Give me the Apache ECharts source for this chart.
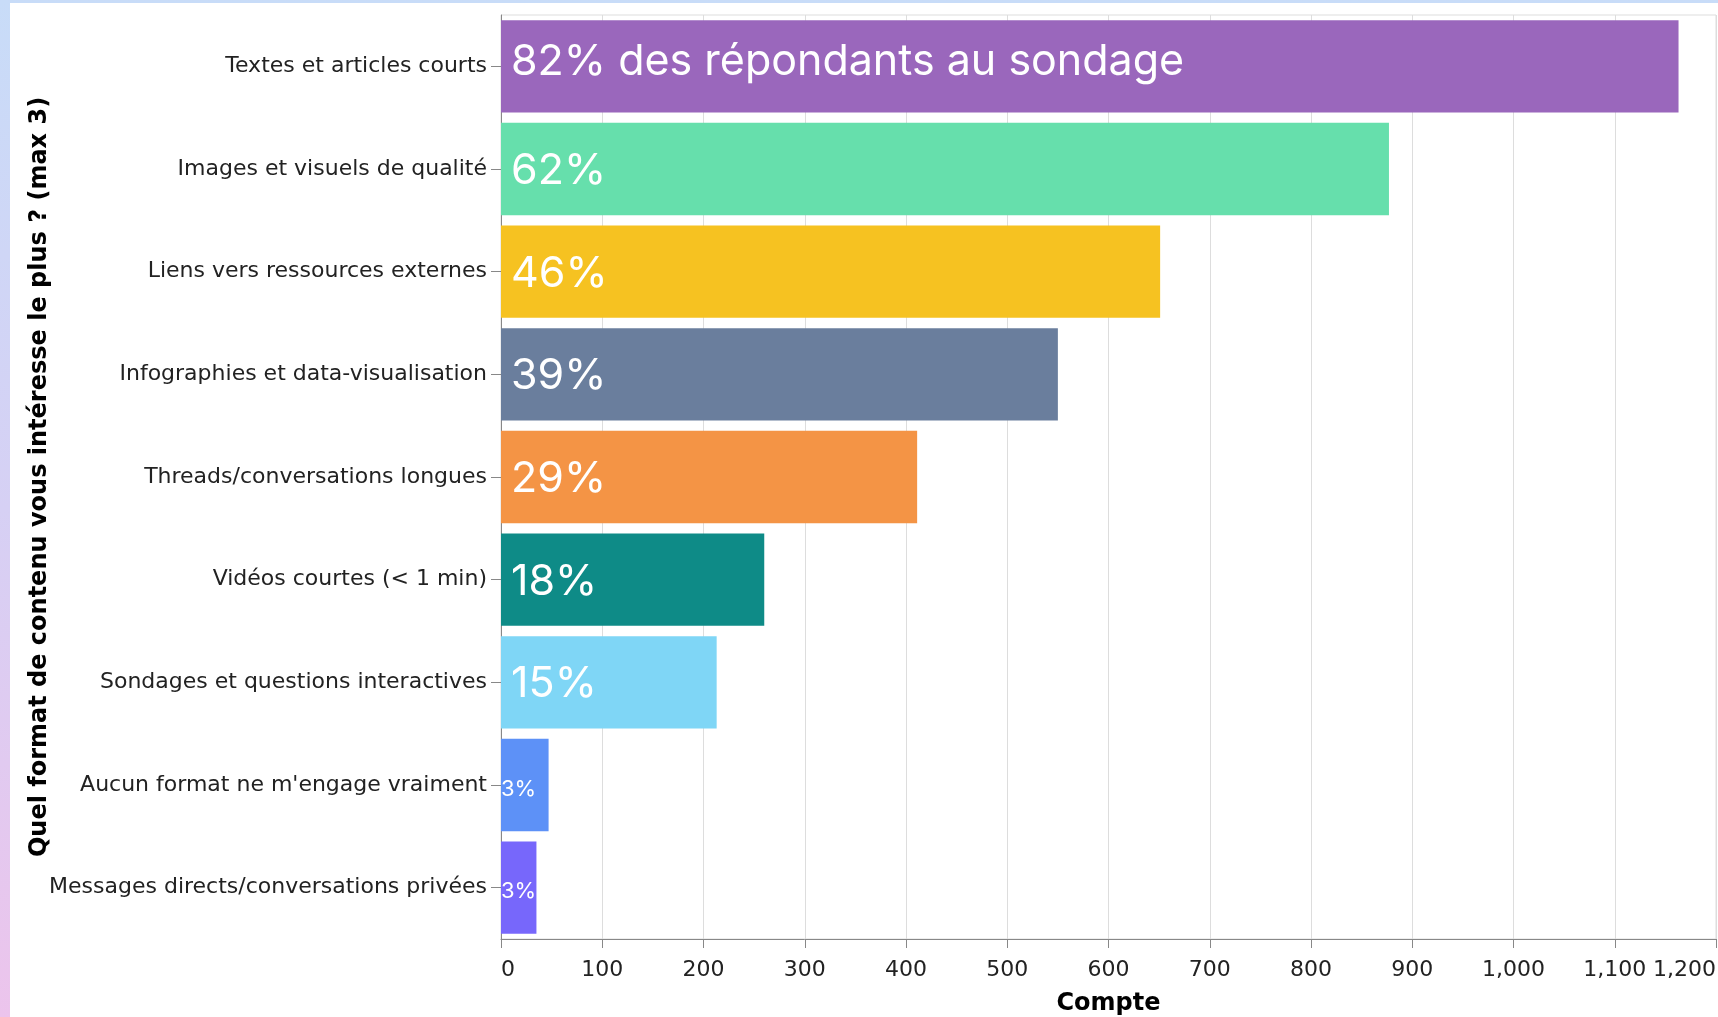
<!DOCTYPE html>
<html>
<head>
<meta charset="utf-8">
<script src="https://cdn.jsdelivr.net/npm/echarts@6/dist/echarts.min.js"></script>
<style>
  html, body { margin: 0; padding: 0; width: 1718px; height: 1017px; overflow: hidden; }
  body { background: linear-gradient(180deg, #c8dcf8 0%, #d6d0f4 50%, #ecc4ec 100%); position: relative; }
  #chart { position: absolute; left: 10px; top: 3px; width: 1708px; height: 1014px; background: #fff; }
</style>
</head>
<body>
<div id="chart"></div>
<script>
// categories (top to bottom)
const categories = [
  'Textes et articles courts',
  'Images et visuels de qualité',
  'Liens vers ressources externes',
  'Infographies et data-visualisation',
  'Threads/conversations longues',
  'Vidéos courtes (< 1 min)',
  'Sondages et questions interactives',
  "Aucun format ne m'engage vraiment",
  'Messages directs/conversations privées'
]
const counts = [1163, 877, 651, 550, 411, 260, 213, 47, 35]
const pctLabels = ['82% des répondants au sondage', '62%', '46%', '39%', '29%', '18%', '15%', '3%', '3%']
const barColors = ['#9a67bc', '#66dfac', '#f6c221', '#6a7e9d', '#f49445', '#0e8b87', '#7fd6f6', '#5d91f7', '#7767fb']
const xTicks = [0, 100, 200, 300, 400, 500, 600, 700, 800, 900, 1000, 1100, 1200]

const chart = echarts.init(document.getElementById('chart'))

const option = {
  animation: false,
  grid: {
    left: 491,
    right: 2,
    top: 12,
    bottom: 78,
    outerBoundsMode: 'none',
    show: true,
    borderColor: '#dddddd',
    borderWidth: 1
  },
  xAxis: {
    type: 'value',
    min: xTicks[0],
    max: xTicks[xTicks.length - 1],
    interval: 100,
    name: 'Compte',
    nameLocation: 'middle',
    nameGap: 53,
    nameTextStyle: { fontFamily: 'DejaVu Sans', fontWeight: 'bold', fontSize: 24, color: '#000' },
    axisLine: { show: true, lineStyle: { color: '#888', width: 1 } },
    axisTick: { show: true, length: 9, lineStyle: { color: '#888' } },
    axisLabel: {
      fontFamily: 'DejaVu Sans',
      fontSize: 22,
      color: '#222',
      margin: 20,
      alignMinLabel: 'left',
      alignMaxLabel: 'right',
      formatter: (v) => v.toLocaleString('en-US')
    },
    splitLine: { show: true, lineStyle: { color: '#dddddd', width: 1 } }
  },
  yAxis: {
    type: 'category',
    inverse: true,
    data: categories,
    name: 'Quel format de contenu vous intéresse le plus ? (max 3)',
    nameLocation: 'middle',
    nameGap: 449,
    nameMoveOverlap: false,
    nameRotate: 90,
    nameTextStyle: { fontFamily: 'DejaVu Sans', fontWeight: 'bold', fontSize: 24, color: '#000' },
    axisLine: { show: true, lineStyle: { color: '#888', width: 1 } },
    axisTick: { show: true, alignWithLabel: true, length: 10, lineStyle: { color: '#888' } },
    axisLabel: { fontFamily: 'DejaVu Sans', fontSize: 22, color: '#222', margin: 14 }
  },
  series: [
    {
      type: 'bar',
      barCategoryGap: '10%',
      data: counts.map((v, i) => ({
        value: v,
        itemStyle: { color: barColors[i] },
        label: {
          formatter: pctLabels[i],
          fontSize: v < 100 ? 22 : 43,
          offset: v < 100 ? [-10, 4] : (i === 0 ? [0, -4] : [0, 2])
        }
      })),
      label: {
        show: true,
        position: 'insideLeft',
        distance: 10,
        color: '#fff',
        fontFamily: 'Inter',
        fontWeight: 400
      }
    }
  ]
}

chart.setOption(option)
</script>
</body>
</html>
